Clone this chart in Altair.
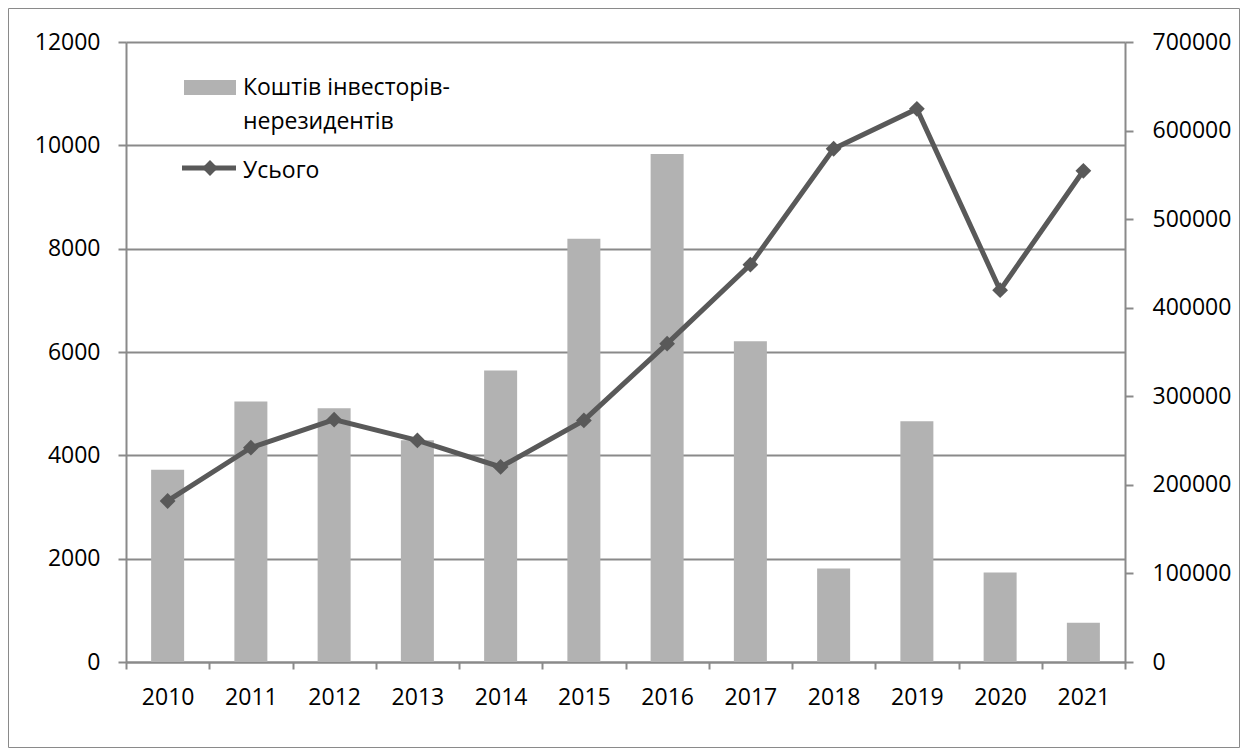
import altair as alt
import pandas as pd

years = ["2010", "2011", "2012", "2013", "2014", "2015", "2016", "2017", "2018", "2019", "2020", "2021"]
nonresident = [3720, 5040, 4910, 4290, 5640, 8190, 9830, 6210, 1810, 4660, 1730, 760]
total = [181800, 242000, 273600, 250200, 220200, 272800, 359400, 448600, 579500, 624500, 419800, 554600]

left_ticks = [0, 2000, 4000, 6000, 8000, 10000, 12000]
right_ticks = [0, 100000, 200000, 300000, 400000, 500000, 600000, 700000]

bar_label = "Коштів інвесторів-"
bar_label2 = "нерезидентів"
line_label = "Усього"

df = pd.DataFrame({"year": years, "nonres": nonresident, "total": total})
one = pd.DataFrame({"a": [0]})

FONT = "Open Sans"
GRID = "#8a8a8a"
BAR = "#b2b2b2"
LINE = "#595959"

x_enc = alt.X(
    "year:N",
    sort=years,
    scale=alt.Scale(paddingInner=0, paddingOuter=0),
    axis=alt.Axis(
        title=None, labelAngle=0, tickBand="extent", tickSize=7, tickWidth=2,
        tickColor=GRID, domainColor=GRID, domainWidth=2, labelPadding=17,
        labelFont=FONT, labelFontSize=23, labelColor="black", grid=False,
    ),
)

bars = alt.Chart(df).mark_bar(color=BAR, size=33).encode(
    x=x_enc,
    y=alt.Y(
        "nonres:Q",
        scale=alt.Scale(domain=[0, 12000], nice=False),
        axis=alt.Axis(
            title=None, orient="left", values=left_ticks, grid=True,
            gridColor=GRID, gridWidth=2, tickSize=8, tickWidth=2, tickColor=GRID,
            domainColor=GRID, domainWidth=2, labelPadding=18, labelFont=FONT,
            labelFontSize=23, labelColor="black", format="d",
        ),
    ),
)

right_axis = alt.Axis(
    title=None, orient="right", values=right_ticks, grid=False,
    tickSize=8, tickWidth=2, tickColor=GRID, domainColor=GRID, domainWidth=2,
    labelPadding=19, labelFont=FONT, labelFontSize=23, labelColor="black", format="d",
)

line = alt.Chart(df).mark_line(color=LINE, strokeWidth=5).encode(
    x=alt.X("year:N", sort=years),
    y=alt.Y("total:Q", scale=alt.Scale(domain=[0, 700000], nice=False), axis=right_axis),
)
points = alt.Chart(df).mark_point(shape="diamond", filled=True, size=250, color=LINE, opacity=1).encode(
    x=alt.X("year:N", sort=years),
    y=alt.Y("total:Q", scale=alt.Scale(domain=[0, 700000], nice=False), axis=right_axis),
)

line_layer = alt.layer(line, points)

# legend (drawn manually inside the plot)
leg_rect = alt.Chart(one).mark_rect(color=BAR).encode(
    x=alt.value(58), x2=alt.value(110), y=alt.value(38), y2=alt.value(53)
)
leg_line = alt.Chart(one).mark_rule(color=LINE, strokeWidth=5).encode(
    x=alt.value(56), x2=alt.value(110), y=alt.value(126)
)
leg_pt = alt.Chart(one).mark_point(shape="diamond", filled=True, size=250, color=LINE, opacity=1).encode(
    x=alt.value(84), y=alt.value(126)
)
txt_kw = dict(align="left", baseline="alphabetic", font=FONT, fontSize=23, color="black")
leg_t1 = alt.Chart(one).mark_text(**txt_kw).encode(x=alt.value(117), y=alt.value(53), text=alt.value(bar_label))
leg_t2 = alt.Chart(one).mark_text(**txt_kw).encode(x=alt.value(117), y=alt.value(87), text=alt.value(bar_label2))
leg_t3 = alt.Chart(one).mark_text(**txt_kw).encode(x=alt.value(117), y=alt.value(136), text=alt.value(line_label))

border = alt.Chart(one).mark_rect(fill=None, stroke="#8a8a8a", strokeWidth=1).encode(
    x=alt.value(-117.5), x2=alt.value(1113.5), y=alt.value(-33.5), y2=alt.value(705.5)
)

chart = alt.layer(
    bars, line_layer, leg_rect, leg_line, leg_pt, leg_t1, leg_t2, leg_t3, border
).resolve_scale(y="independent").properties(
    width=999, height=620,
    padding={"left": 118, "top": 34, "right": 115, "bottom": 86},
    autosize=alt.AutoSizeParams(type="none"),
    background="white",
).configure_view(stroke=None)

chart.save("out.html", embed_options={"renderer": "svg", "actions": False})
